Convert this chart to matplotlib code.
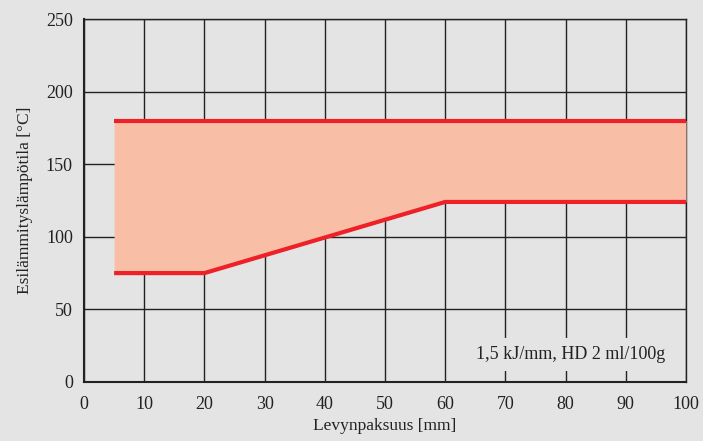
import matplotlib.pyplot as plt

# data
thickness = [5, 20, 60, 100]
upper_temp = [180, 180, 180, 180]
lower_temp = [75, 75, 124, 124]
x_ticks = [0, 10, 20, 30, 40, 50, 60, 70, 80, 90, 100]
y_ticks = [0, 50, 100, 150, 200, 250]
note = "1,5 kJ/mm, HD 2 ml/100g"

plt.rcParams['font.family'] = ['Liberation Serif', 'DejaVu Serif']
bg = '#e3e4e3'

fig = plt.figure(figsize=(7.03, 4.41), dpi=100, facecolor=bg)
ax = fig.add_axes([84/703, 59/441, 602/703, 363/441])
ax.set_facecolor(bg)

ax.fill_between(thickness, lower_temp, upper_temp, color='#f9bfa6', lw=0, zorder=3)
ax.plot(thickness, upper_temp, color='#ee2129', lw=3, solid_capstyle='butt', zorder=4)
ax.plot(thickness, lower_temp, color='#ee2129', lw=3, solid_capstyle='butt', zorder=4)

ax.set_xlim(0, 100)
ax.set_ylim(0, 250)
ax.set_xticks(x_ticks)
ax.set_yticks(y_ticks)
ax.grid(True, color='#222222', lw=1, zorder=1)
ax.set_axisbelow(True)
ax.tick_params(length=0, labelsize=13, colors='#222222')
ax.tick_params(axis='x', pad=10)
ax.tick_params(axis='y', pad=8)
for s in ax.spines.values():
    s.set_color('#222222')
    s.set_linewidth(1)
ax.spines['left'].set_linewidth(1.5)
ax.spines['bottom'].set_linewidth(1.5)

ax.set_xlabel('Levynpaksuus [mm]', fontsize=12.5, color='#222222', labelpad=4)
ax.set_ylabel('Esilämmityslämpötila [°C]', fontsize=12.5, color='#222222', labelpad=9)

ax.text(80.8, 19, note, fontsize=13, color='#222222', ha='center', va='center', zorder=5,
        bbox=dict(facecolor=bg, edgecolor='none', pad=6))

fig.savefig('out.png', dpi=100, facecolor=bg)
